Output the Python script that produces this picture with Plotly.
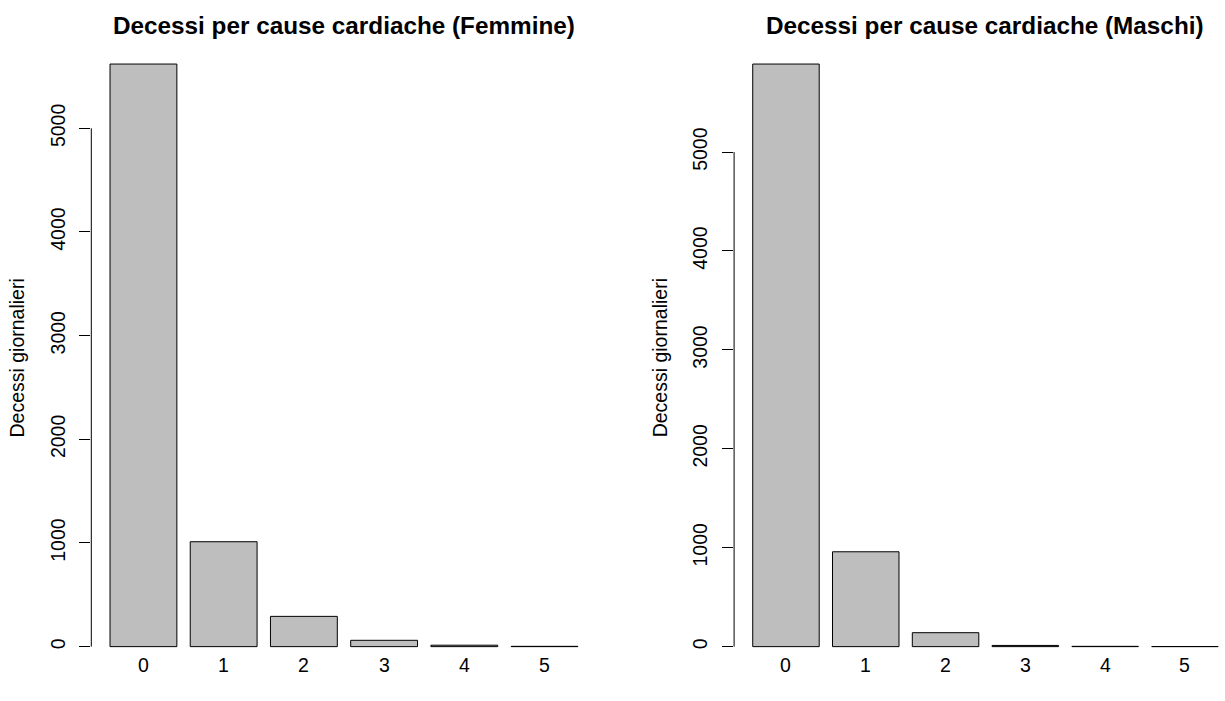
import plotly.graph_objects as go

# Daily deaths from cardiac causes: number of days with 0..5 deaths
categories = ["0", "1", "2", "3", "4", "5"]
femmine = [5620, 1012, 292, 61, 14, 3]
maschi = [5890, 959, 141, 12, 3, 1]
y_ticks = [0, 1000, 2000, 3000, 4000, 5000]
titles = ["Decessi per cause cardiache (Femmine)",
          "Decessi per cause cardiache (Maschi)"]
y_label = "Decessi giornalieri"

W, H = 1225, 701
FONT = "Liberation Sans, Arial, sans-serif"
BAR_FILL = "#BEBEBE"
AX_SIZE = 19.5
TITLE_SIZE = 24.3
XLAB_Y = 665  # pixel row of the category labels

# plot regions in pixels: (left, right, top, bottom)
panels = [(91.3, 596.7, 40.5, 676.0), (734.1, 1236.8, 40.5, 676.0)]

# base-graphics style bar layout: width 1, gap 0.2, 4% axis padding
SPACE = 0.2
STEP = 1.0 + SPACE


def y_limits(vals):
    top = max(vals)
    lo = -0.01 * top
    pad = 0.04 * (top - lo)
    return [lo - pad, top + pad]


def x_limits(n, left_px, right_px):
    lo, hi = SPACE, n * STEP
    pad = 0.04 * (hi - lo)
    lo, hi = lo - pad, hi + pad
    # convert to category units (category i centred at SPACE + 0.5 + i*STEP)
    c0 = (lo - SPACE - 0.5) / STEP
    c1 = (hi - SPACE - 0.5) / STEP
    vis_right = min(right_px, W)
    c1_vis = c0 + (c1 - c0) * (vis_right - left_px) / (right_px - left_px)
    return [c0, c1_vis], vis_right


fig = go.Figure()
annotations = []
shapes = []

for k, (vals, title, (lp, rp, tp, bp)) in enumerate(zip([femmine, maschi], titles, panels)):
    sfx = "" if k == 0 else str(k + 1)
    xr, vis_r = x_limits(len(categories), lp, rp)
    yr = y_limits(vals)

    fig.add_trace(go.Bar(
        x=categories, y=vals,
        xaxis="x" + sfx, yaxis="y" + sfx,
        marker=dict(color=BAR_FILL, line=dict(color="black", width=1)),
        showlegend=False,
    ))

    fig.layout["xaxis" + sfx] = dict(
        domain=[lp / W, vis_r / W], range=xr, type="category",
        anchor="y" + sfx, showgrid=False, zeroline=False, showline=False,
        ticks="", showticklabels=False,
    )
    fig.layout["yaxis" + sfx] = dict(
        domain=[1 - bp / H, 1 - tp / H], range=yr,
        anchor="x" + sfx, showgrid=False, zeroline=False, showline=False,
        tickvals=y_ticks, ticktext=[str(v) for v in y_ticks],
        ticks="outside", ticklen=11, tickwidth=1, tickcolor="black",
        tickangle=-90, ticklabelstandoff=7,
        tickfont=dict(family=FONT, size=AX_SIZE, color="black"),
    )

    # axis line spanning first to last tick only
    shapes.append(dict(
        type="line", xref="x" + sfx + " domain", yref="y" + sfx,
        x0=0, x1=0, y0=y_ticks[0], y1=y_ticks[-1],
        line=dict(color="black", width=1),
    ))

    # category labels under the bars
    for cat in categories:
        annotations.append(dict(
            text=cat, xref="x" + sfx, yref="paper",
            x=cat, y=1 - XLAB_Y / H, xanchor="center", yanchor="middle",
            showarrow=False, font=dict(family=FONT, size=AX_SIZE, color="black"),
        ))

    annotations.append(dict(
        text="<b>" + title + "</b>", xref="paper", yref="paper",
        x=(lp + rp) / 2 / W, y=1 - 25 / H, xanchor="center", yanchor="middle",
        showarrow=False, font=dict(family=FONT, size=TITLE_SIZE, color="black"),
    ))
    annotations.append(dict(
        text=y_label, xref="paper", yref="paper",
        x=(lp - 74) / W, y=1 - (tp + bp) / 2 / H, xanchor="center", yanchor="middle",
        textangle=-90, showarrow=False,
        font=dict(family=FONT, size=AX_SIZE, color="black"),
    ))

fig.update_layout(
    width=W, height=H,
    margin=dict(l=0, r=0, t=0, b=0),
    paper_bgcolor="white", plot_bgcolor="white",
    bargap=SPACE / STEP,
    annotations=annotations, shapes=shapes,
)

fig.write_html("out.html")
